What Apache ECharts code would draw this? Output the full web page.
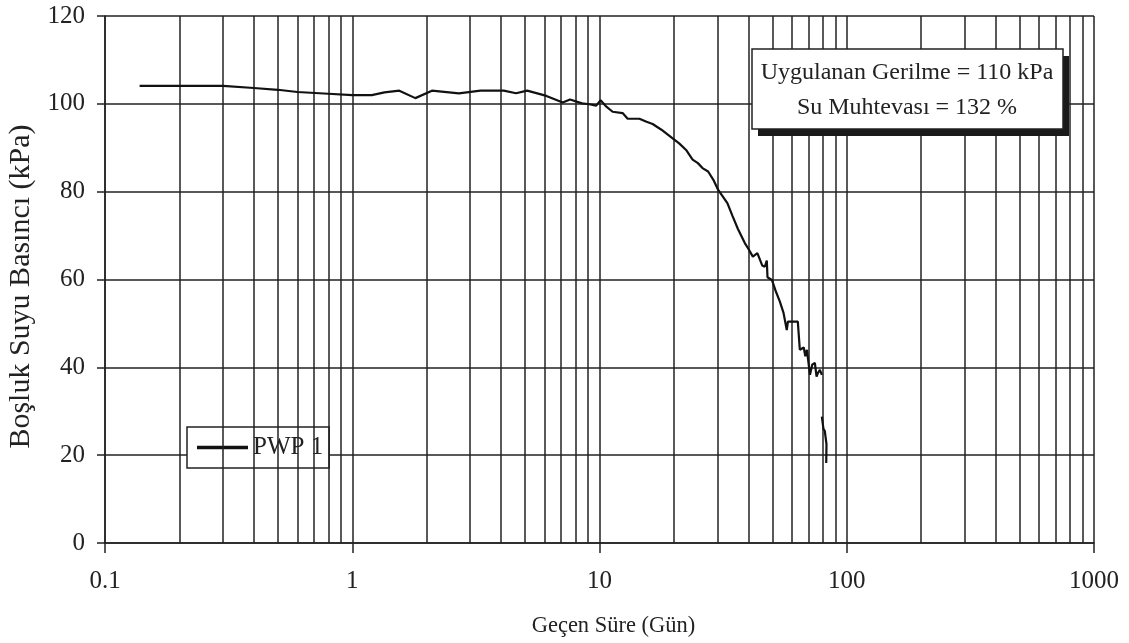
<!DOCTYPE html>
<html>
<head>
<meta charset="utf-8">
<script src="https://cdn.jsdelivr.net/npm/echarts@6/dist/echarts.min.js"></script>
<style>
html,body{margin:0;padding:0;background:#fff;}
#chart{width:1129px;height:643px;}
</style>
</head>
<body>
<div id="chart"></div>
<script>
// ---- data ----
const seriesName = 'PWP 1';
const seg1Days = [0.138,0.2,0.3,0.4,0.5,0.6,0.8,1.0,1.2,1.35,1.55,1.8,2.1,2.7,3.3,4.1,4.6,5.1,6.1,7.1,7.6,8.5,9.1,9.7,10.1,10.6,11.3,12.4,13.0,14.5,15.5,16.4,17.8,19.7,21.0,22.4,23.8,25.0,26.2,27.5,29.0,30.2,32.9,34.5,36.3,38.7,40.0,41.7,43.5,45.5,46.6,47.5,47.8,49.8,51.5,53.6,55.5,57.2,57.8,63.4,64.6,67.0,68.0,69.0,71.0,72.5,74.3,75.5,76.4,77.9,79.3];
const seg1Kpa  = [104.1,104.1,104.1,103.6,103.2,102.7,102.3,102.0,102.0,102.6,103.0,101.3,103.0,102.4,103.0,103.0,102.4,103.0,101.8,100.3,101.0,100.1,99.9,99.6,100.8,99.5,98.2,97.9,96.6,96.6,95.9,95.4,94.1,92.2,91.0,89.5,87.3,86.5,85.3,84.6,82.5,80.4,77.4,74.5,71.5,68.3,67.0,65.2,66.0,63.2,62.9,64.3,60.5,59.9,57.5,55.0,52.4,48.5,50.4,50.4,44.0,44.5,42.5,44.0,38.3,40.6,41.0,37.9,38.7,39.4,38.3];
const seg2Days = [79.3,80.5,81.5,82.8,82.6];
const seg2Kpa  = [28.8,26.0,25.5,22.5,18.2];
const xTickLabels = ['0.1','1','10','100','1000'];
const yTicks = [0,20,40,60,80,100,120];
const minorGridDays = [];
[0.1,1,10,100].forEach(d => { for (let k = 2; k <= 9; k++) minorGridDays.push(+(d*k).toPrecision(3)); });
const xAxisTitle = 'Geçen Süre (Gün)';
const yAxisTitle = 'Boşluk Suyu Basıncı (kPa)';
const noteLines = ['Uygulanan Gerilme = 110 kPa', 'Su Muhtevası = 132 %'];

// ---- chart ----
const FONT = '"Liberation Serif", "DejaVu Serif", serif';
const GRID = '#222';
const chart = echarts.init(document.getElementById('chart'), null, {renderer: 'canvas'});
const pairs = (xs, ys) => xs.map((x, i) => [x, ys[i]]);

chart.setOption({
  animation: false,
  backgroundColor: '#fff',
  grid: {left: 105, right: 35, top: 16, bottom: 100, containLabel: false, outerBoundsMode: 'none'},
  legend: {
    data: [seriesName],
    left: 187, top: 427,
    orient: 'horizontal',
    icon: 'rect',
    itemWidth: 51, itemHeight: 3.5,
    itemGap: 5,
    padding: [8, 6, 8, 10],
    borderColor: '#222', borderWidth: 1.5,
    backgroundColor: '#fff',
    textStyle: {fontFamily: FONT, fontSize: 25, color: '#222', lineHeight: 24, padding: [0, 0, 0, 0]},
    selectedMode: false
  },
  xAxis: {
    type: 'log', logBase: 10, min: 0.1, max: 1000,
    name: xAxisTitle, nameLocation: 'middle', nameGap: 72,
    nameTextStyle: {fontFamily: FONT, fontSize: 22.5, color: '#222', padding: [0, 0, 0, 28]},
    axisLine: {show: true, lineStyle: {color: GRID, width: 1.5}},
    axisTick: {show: true, length: 10, inside: false, lineStyle: {color: GRID, width: 1.5}},
    axisLabel: {
      margin: 26, fontFamily: FONT, fontSize: 25, color: '#222',
      formatter: v => { const i = Math.round(Math.log10(v)) + 1; return xTickLabels[i] !== undefined ? xTickLabels[i] : ''; }
    },
    splitLine: {show: true, lineStyle: {color: GRID, width: 1.5}},
    minorTick: {show: false}, minorSplitLine: {show: false}
  },
  yAxis: {
    type: 'value', min: yTicks[0], max: yTicks[yTicks.length - 1], interval: 20,
    name: yAxisTitle, nameLocation: 'middle', nameGap: 63, nameRotate: 90,
    nameTextStyle: {fontFamily: FONT, fontSize: 30, color: '#222', padding: [0, 14, 0, 0]},
    axisLine: {show: true, lineStyle: {color: GRID, width: 1.5}},
    axisTick: {show: true, length: 8, inside: false, lineStyle: {color: GRID, width: 1.5}},
    axisLabel: {margin: 20, fontFamily: FONT, fontSize: 25, color: '#222'},
    splitLine: {show: true, lineStyle: {color: GRID, width: 1.5}}
  },
  series: [
    {
      name: seriesName, type: 'line', data: pairs(seg1Days, seg1Kpa),
      showSymbol: false, symbol: 'none', smooth: false,
      lineStyle: {color: '#111', width: 2.2}, itemStyle: {color: '#111'},
      z: 5,
      markLine: {
        silent: true, symbol: ['none', 'none'], animation: false,
        label: {show: false},
        lineStyle: {color: GRID, width: 1.5, type: 'solid'},
        emphasis: {disabled: true},
        data: minorGridDays.map(v => ({xAxis: v}))
      }
    },
    {
      name: seriesName, type: 'line', data: pairs(seg2Days, seg2Kpa),
      showSymbol: false, symbol: 'none',
      lineStyle: {color: '#111', width: 2.2}, itemStyle: {color: '#111'},
      z: 5
    }
  ],
  graphic: [
    {type: 'rect', shape: {x: 758, y: 56, width: 311, height: 80}, style: {fill: '#1a1a1a'}, z: 20},
    {type: 'rect', shape: {x: 752, y: 49, width: 311, height: 80}, style: {fill: '#fff', stroke: '#222', lineWidth: 1.5}, z: 21},
    {type: 'text', x: 907, y: 73, style: {text: noteLines[0], fontFamily: FONT, fontSize: 24, fill: '#222', align: 'center', verticalAlign: 'middle'}, z: 22},
    {type: 'text', x: 907, y: 108, style: {text: noteLines[1], fontFamily: FONT, fontSize: 24, fill: '#222', align: 'center', verticalAlign: 'middle'}, z: 22}
  ]
});
</script>
</body>
</html>
